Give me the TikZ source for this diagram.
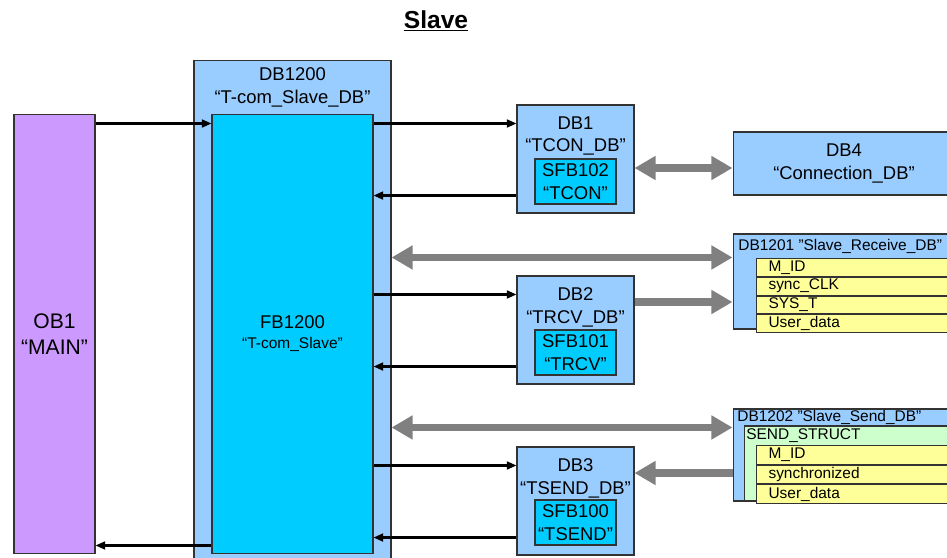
\documentclass[tikz,border=0pt]{standalone}
\usepackage{fontspec}
\setmainfont{Liberation Sans}
\usetikzlibrary{arrows.meta,positioning}
\definecolor{DbClr}{HTML}{99CCFF}
\definecolor{FbClr}{HTML}{00CCFF}
\definecolor{ObClr}{HTML}{CC99FF}
\definecolor{RowClr}{HTML}{FFFF99}
\definecolor{StructClr}{HTML}{CCFFCC}
\definecolor{BusClr}{HTML}{808080}
\definecolor{EdgeClr}{HTML}{333333}

\begin{document}
\begin{tikzpicture}[x=0.02cm,y=-0.02cm,
  LinkTip/.tip={Triangle[length=5.5pt,width=4.5pt]},
  BusTip/.tip={Triangle[length=12pt,width=13pt]},
  box/.style={draw=EdgeClr,line width=.6pt,inner sep=0pt},
  txt/.style={align=center,font=\fontsize{10.5}{13}\selectfont,inner sep=0pt},
  tbl/.style={font=\fontsize{8.8}{10}\selectfont,inner sep=0pt,anchor=west},
  row/.style={box,fill=RowClr,text width=3.5cm,inner xsep=.24cm,minimum height=.355cm,align=left,font=\fontsize{8.8}{10}\selectfont},
  link/.style={line width=1.2pt,-LinkTip},
  bus/.style={BusClr,line width=4.5pt}]

\useasboundingbox (0,0) rectangle (947,558);

\node[font=\bfseries\fontsize{14}{16}\selectfont] (title) at (436,21) {\underline{Slave}};

% OB1 and the instance DB with its FB
\node[box,fill=ObClr,minimum width=1.62cm,minimum height=8.8cm] (ob1) at (54.5,334) {};
\node[txt,font=\fontsize{12}{14.7}\selectfont] (ob1t) at (ob1) {OB1\\“MAIN”};

\node[box,fill=DbClr,minimum width=3.94cm,minimum height=10.4cm] (idb) at (292.5,320) {};
\node[txt] (idbt) at (292.5,87.5) {DB1200\\“T-com\_Slave\_DB”};

\node[box,fill=FbClr,minimum width=3.22cm,minimum height=8.8cm] (fb) at (292.5,334) {};
\node[txt,font=\fontsize{10.5}{11.3}\selectfont] (fbt) at (fb) {FB1200\\{\fontsize{8.8}{10}\selectfont “T-com\_Slave”}};

% communication blocks
\node[box,fill=DbClr,minimum width=2.34cm,minimum height=2.16cm] (db1) at (575.5,159) {};
\node[txt] (db1t) at (575.5,136) {DB1\\“TCON\_DB”};
\node[box,fill=FbClr,minimum width=1.62cm,minimum height=.9cm,txt] (sfb102) at (575.5,181.5) {SFB102\\“TCON”};

\node[box,fill=DbClr,minimum width=2.34cm,minimum height=2.16cm] (db2) at (575.5,330) {};
\node[txt] (db2t) at (575.5,307) {DB2\\“TRCV\_DB”};
\node[box,fill=FbClr,minimum width=1.62cm,minimum height=.9cm,txt] (sfb101) at (575.5,352.5) {SFB101\\“TRCV”};

\node[box,fill=DbClr,minimum width=2.34cm,minimum height=2.16cm] (db3) at (575.5,501) {};
\node[txt] (db3t) at (575.5,478) {DB3\\“TSEND\_DB”};
\node[box,fill=FbClr,minimum width=1.62cm,minimum height=.9cm,txt] (sfb100) at (575.5,522.5) {SFB100\\“TSEND”};

\node[box,fill=DbClr,minimum width=4.44cm,minimum height=1.26cm,txt,font=\fontsize{10.5}{13.6}\selectfont] (db4) at (844,163.5) {DB4\\“Connection\_DB”};

% receive DB
\node[box,fill=DbClr,minimum width=4.44cm,minimum height=1.9cm] (rcv) at (844,281.5) {};
\node[tbl] (rcvt) at (738,246) {DB1201 "Slave\_Receive\_DB"};
\node[row,anchor=north west] (rr1) at (756,258) {M\_ID};
\node[row,below=0pt of rr1] (rr2) {sync\_CLK};
\node[row,below=0pt of rr2] (rr3) {SYS\_T};
\node[row,below=0pt of rr3] (rr4) {User\_data};

% send DB
\node[box,fill=DbClr,minimum width=4.44cm,minimum height=1.84cm] (snd) at (844,455) {};
\node[tbl] (sndt) at (737,417.5) {DB1202 "Slave\_Send\_DB"};
\node[box,fill=StructClr,minimum width=4.22cm,minimum height=1.5cm] (sst) at (849.5,463.5) {};
\node[tbl] (sstt) at (746,435.5) {SEND\_STRUCT};
\node[row,minimum height=.373cm,anchor=north west] (sr1) at (756,445) {M\_ID};
\node[row,minimum height=.373cm,below=0pt of sr1] (sr2) {synchronized};
\node[row,minimum height=.373cm,below=0pt of sr2] (sr3) {User\_data};

% calls
\coordinate (mainin) at ([yshift=-.2cm]ob1.north east);
\draw[link] (mainin) -- (mainin -| fb.west);
\coordinate (mainout) at ([yshift=.18cm]fb.south west);
\draw[link] (mainout) -- (mainout -| ob1.east);

\foreach \b in {db1,db2,db3}{
  \coordinate (\b-in) at ([yshift=-.38cm]\b.north west);
  \coordinate (\b-out) at ([yshift=.36cm]\b.south west);
  \draw[link] (fb.east |- \b-in) -- (\b-in);
  \draw[link] (\b-out) -- (fb.east |- \b-out);
}

% data
\coordinate (p1) at ([yshift=-.18cm]db1.east);
\draw[bus,BusTip-BusTip] (p1) -- (p1 -| db4.west);
\coordinate (p2) at ([yshift=-.48cm]rcv.north west);
\draw[bus,BusTip-BusTip] (idb.east |- p2) -- (p2);
\coordinate (p3) at ([yshift=.56cm]db2.east);
\draw[bus,-BusTip] (p3) -- (p3 -| rcv.west);
\coordinate (p4) at ([yshift=-.38cm]snd.north west);
\draw[bus,BusTip-BusTip] (idb.east |- p4) -- (p4);
\coordinate (p5) at ([yshift=.56cm]db3.east);
\draw[bus,-BusTip] (p5 -| snd.west) -- (p5);

\end{tikzpicture}
\end{document}
